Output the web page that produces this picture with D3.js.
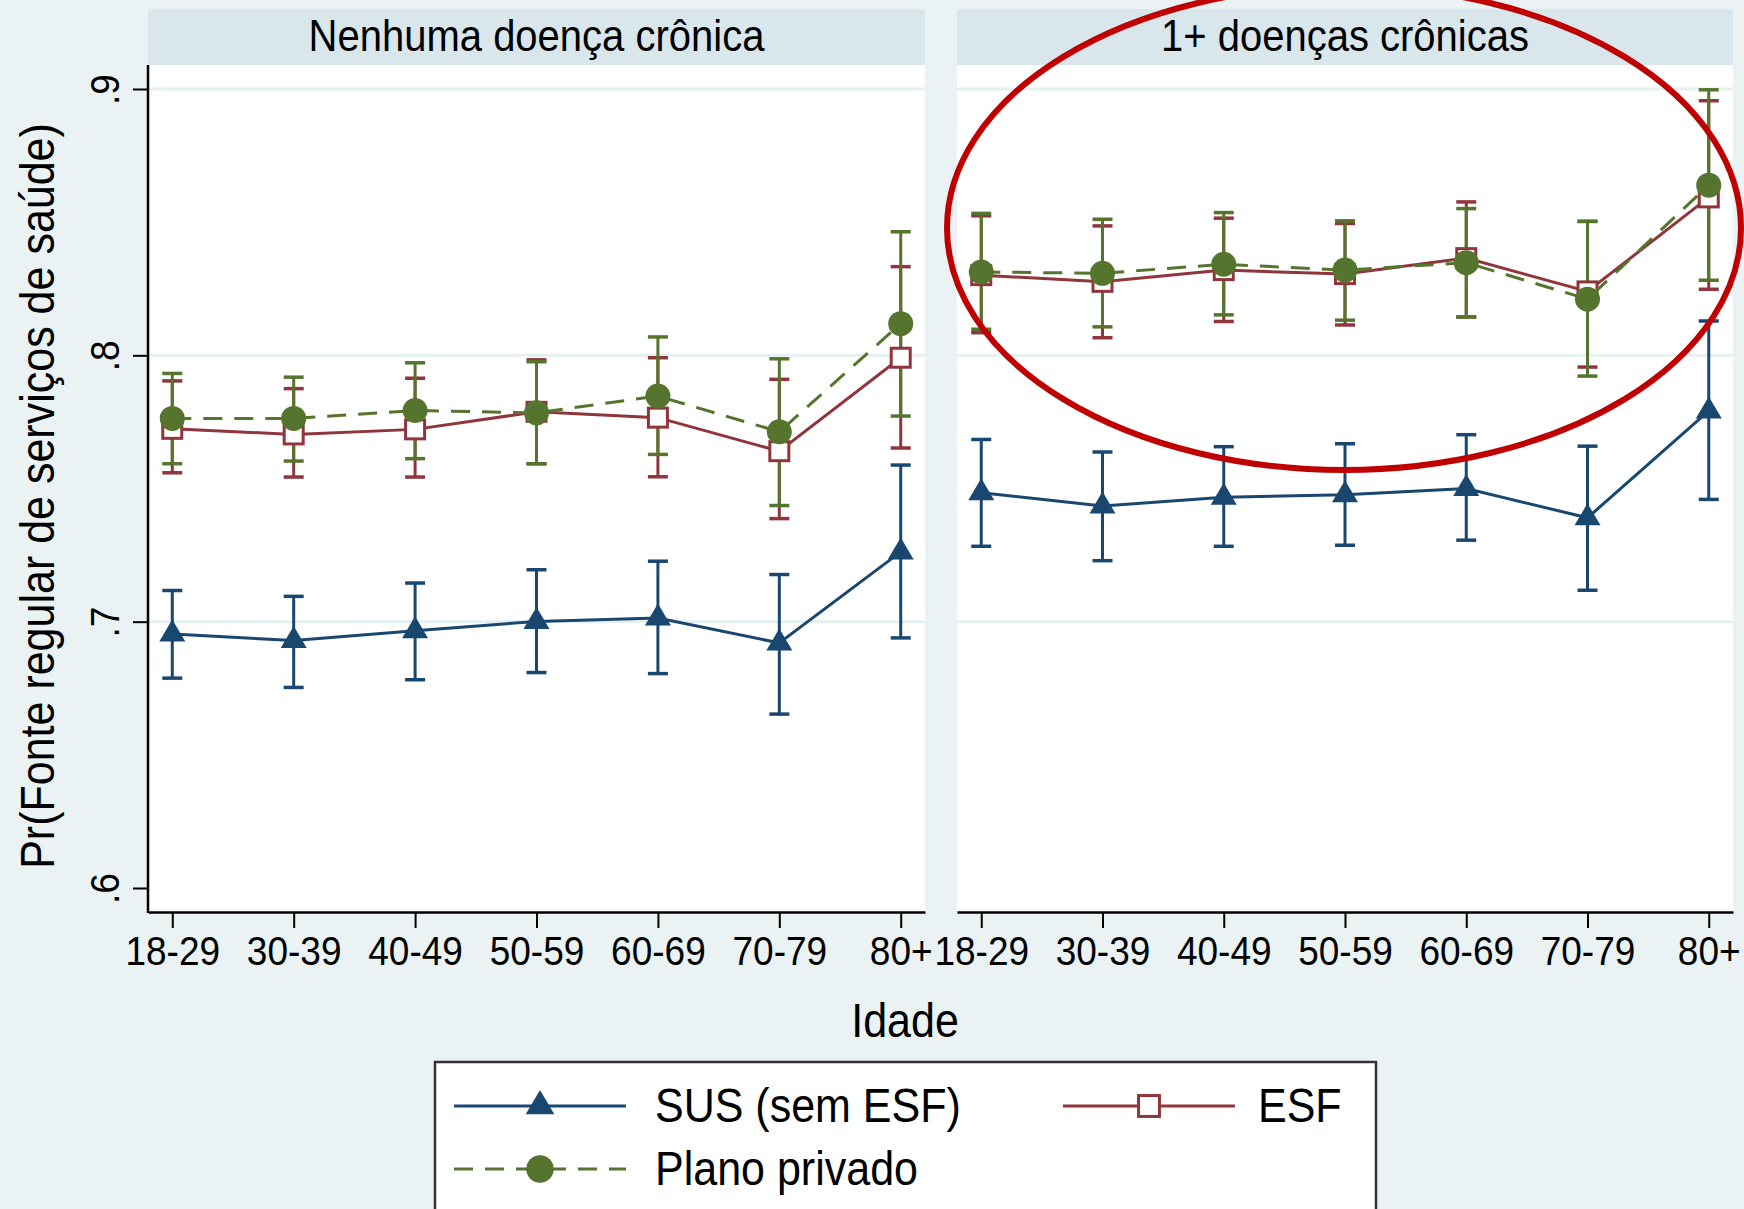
<!DOCTYPE html>
<meta charset="utf-8">
<head>
    <script src="https://d3js.org/d3.v7.min.js"></script>
    <style>
        body { margin: 0; background: #eaf2f3; }
        text { font-family: "Liberation Sans", Arial, Helvetica, sans-serif; fill: #000; }
    </style>
</head>
<body>
<div id="chart"></div>
</body>
<script>

    // categories and labels
    var ages = ["18-29", "30-39", "40-49", "50-59", "60-69", "70-79", "80+"];
    var panelTitles = ["Nenhuma doença crônica", "1+ doenças crônicas"];
    var seriesNames = ["SUS (sem ESF)", "ESF", "Plano privado"];
    var yTicks = [0.6, 0.7, 0.8, 0.9];

    // panel 1: no chronic disease
    var susNone = [0.6954, 0.6929, 0.6966, 0.7001, 0.7014, 0.6920, 0.7262];
    var susNoneLo = [0.6788, 0.6753, 0.6782, 0.6809, 0.6805, 0.6653, 0.6939];
    var susNoneHi = [0.7117, 0.7095, 0.7145, 0.7195, 0.7227, 0.7177, 0.7588];
    var esfNone = [0.7724, 0.7703, 0.7722, 0.7788, 0.7766, 0.7640, 0.7991];
    var esfNoneLo = [0.7559, 0.7543, 0.7543, 0.7593, 0.7544, 0.7387, 0.7652];
    var esfNoneHi = [0.7904, 0.7875, 0.7914, 0.7983, 0.7991, 0.7910, 0.8333];
    var privNone = [0.7763, 0.7763, 0.7793, 0.7784, 0.7847, 0.7713, 0.8119];
    var privNoneLo = [0.7593, 0.7603, 0.7612, 0.7593, 0.7628, 0.7436, 0.7772];
    var privNoneHi = [0.7932, 0.7918, 0.7972, 0.7976, 0.8069, 0.7987, 0.8464];

    // panel 2: 1+ chronic diseases
    var susChr = [0.7484, 0.7434, 0.7467, 0.7477, 0.7500, 0.7390, 0.7791];
    var susChrLo = [0.7283, 0.7229, 0.7283, 0.7287, 0.7306, 0.7118, 0.7459];
    var susChrHi = [0.7684, 0.7637, 0.7657, 0.7668, 0.7702, 0.7659, 0.8129];
    var esfChr = [0.8301, 0.8276, 0.8320, 0.8305, 0.8365, 0.8240, 0.8593];
    var esfChrLo = [0.8085, 0.8066, 0.8127, 0.8114, 0.8144, 0.7956, 0.8248];
    var esfChrHi = [0.8524, 0.8486, 0.8515, 0.8495, 0.8576, 0.8503, 0.8956];
    var privChr = [0.8313, 0.8308, 0.8342, 0.8320, 0.8348, 0.8211, 0.8639];
    var privChrLo = [0.8098, 0.8107, 0.8152, 0.8132, 0.8144, 0.7922, 0.8282];
    var privChrHi = [0.8533, 0.8511, 0.8536, 0.8505, 0.8551, 0.8503, 0.8997];

    var W = 1744, H = 1209;
    var panelX = [[148, 925], [957, 1733]];
    var bandTop = 9, plotTop = 65, plotBottom = 912;

    var series = [
        {color: "#1a476f", marker: "triangle", dash: null,
            vals: [susNone, susChr], lo: [susNoneLo, susChrLo], hi: [susNoneHi, susChrHi]},
        {color: "#90353b", marker: "square", dash: null,
            vals: [esfNone, esfChr], lo: [esfNoneLo, esfChrLo], hi: [esfNoneHi, esfChrHi]},
        {color: "#55752f", marker: "circle", dash: "19,12",
            vals: [privNone, privChr], lo: [privNoneLo, privChrLo], hi: [privNoneHi, privChrHi]}
    ];

    var svg = d3.select("#chart").append("svg")
        .attr("width", W).attr("height", H);

    svg.append("rect").attr("width", W).attr("height", H).attr("fill", "#eaf2f3");

    var y = d3.scaleLinear().domain([0.6, 0.9]).range([888, 89]);

    // Stata's Helvetica looks taller and narrower: grow the font, keep the width
    function condense(sel, k) {
        sel.each(function () {
            var t = d3.select(this);
            var w = this.getComputedTextLength();
            var fs = parseFloat(t.style("font-size"));
            t.style("font-size", (fs * k) + "px")
                .attr("textLength", w)
                .attr("lengthAdjust", "spacingAndGlyphs");
        });
    }

    function drawMarker(g, type, color, cx, cy, k) {
        k = k || 1;
        if (type === "triangle") {
            g.append("path")
                .attr("d", "M0," + (-14.5 * k) + "L" + (13 * k) + "," + (7.5 * k) + "L" + (-13 * k) + "," + (7.5 * k) + "Z")
                .attr("transform", "translate(" + cx + "," + cy + ")")
                .attr("fill", color);
        } else if (type === "square") {
            var s = 9.5 * k;
            g.append("rect")
                .attr("x", cx - s).attr("y", cy - s)
                .attr("width", 2 * s).attr("height", 2 * s)
                .attr("fill", "#fff").attr("stroke", color).attr("stroke-width", 3);
        } else {
            g.append("circle").attr("cx", cx).attr("cy", cy).attr("r", 12.5 * k)
                .attr("fill", color);
        }
    }

    panelX.forEach(function (px, p) {
        var g = svg.append("g");
        var x = d3.scalePoint().domain(ages).range(px).padding(0.2);

        // title band and plot region
        g.append("rect").attr("x", px[0]).attr("y", bandTop)
            .attr("width", px[1] - px[0]).attr("height", plotTop - bandTop)
            .attr("fill", "#d9e6eb");
        g.append("rect").attr("x", px[0]).attr("y", plotTop)
            .attr("width", px[1] - px[0]).attr("height", plotBottom - plotTop)
            .attr("fill", "#fff");
        g.append("text")
            .attr("class", "lbl")
            .attr("x", (px[0] + px[1]) / 2).attr("y", 51)
            .attr("text-anchor", "middle")
            .style("font-size", "40px")
            .text(panelTitles[p]);

        // gridlines
        g.selectAll(".grid").data(yTicks.filter(function (d) { return d > 0.65; }))
            .enter().append("line")
            .attr("x1", px[0]).attr("x2", px[1])
            .attr("y1", function (d) { return y(d); })
            .attr("y2", function (d) { return y(d); })
            .attr("stroke", "#e6eff1").attr("stroke-width", 3);

        // x axis
        var xa = g.append("g")
            .attr("transform", "translate(0," + plotBottom + ")")
            .call(d3.axisBottom(x).tickSize(16).tickSizeOuter(0).tickPadding(8));
        xa.select(".domain").attr("stroke", "#000").attr("stroke-width", 2.5);
        xa.selectAll(".tick line").attr("stroke", "#000").attr("stroke-width", 2);
        xa.selectAll(".tick text").attr("class", "lbl").style("font-size", "37px").attr("fill", "#000");

        // y axis only on the first panel
        if (p === 0) {
            var ya = g.append("g")
                .attr("transform", "translate(" + px[0] + ",0)")
                .call(d3.axisLeft(y).tickValues(yTicks).tickSize(15)
                    .tickFormat(function (d) { return d3.format(".1f")(d).replace(/^0/, ""); }));
            ya.select(".domain").remove();
            ya.selectAll(".tick line").attr("stroke", "#000").attr("stroke-width", 2);
            ya.selectAll(".tick text")
                .attr("class", "lbl")
                .attr("x", null).attr("dy", null)
                .attr("text-anchor", "middle")
                .attr("transform", "translate(-29,0) rotate(-90)")
                .style("font-size", "37px").attr("fill", "#000");
            g.append("line")
                .attr("x1", px[0]).attr("x2", px[0])
                .attr("y1", plotTop).attr("y2", plotBottom + 1)
                .attr("stroke", "#000").attr("stroke-width", 2.5);
        }

        // confidence intervals
        series.forEach(function (s) {
            ages.forEach(function (a, i) {
                var cx = x(a), y0 = y(s.lo[p][i]), y1 = y(s.hi[p][i]);
                g.append("line").attr("x1", cx).attr("x2", cx).attr("y1", y0).attr("y2", y1)
                    .attr("stroke", s.color).attr("stroke-width", 3);
                [y0, y1].forEach(function (yy) {
                    g.append("line").attr("x1", cx - 10).attr("x2", cx + 10)
                        .attr("y1", yy).attr("y2", yy)
                        .attr("stroke", s.color).attr("stroke-width", 3.5);
                });
            });
        });

        // connected lines and markers
        series.forEach(function (s) {
            var line = d3.line()
                .x(function (d, i) { return x(ages[i]); })
                .y(function (d) { return y(d); });
            g.append("path").datum(s.vals[p])
                .attr("d", line)
                .attr("fill", "none")
                .attr("stroke", s.color).attr("stroke-width", 3)
                .attr("stroke-dasharray", s.dash);
            s.vals[p].forEach(function (v, i) {
                drawMarker(g, s.marker, s.color, x(ages[i]), y(v));
            });
        });
    });

    // axis titles
    svg.append("text")
        .attr("class", "lbl")
        .attr("transform", "translate(54," + 496 + ") rotate(-90)")
        .attr("text-anchor", "middle")
        .style("font-size", "43px")
        .text("Pr(Fonte regular de serviços de saúde)");
    svg.append("text")
        .attr("class", "lbl")
        .attr("x", 905).attr("y", 1037)
        .attr("text-anchor", "middle")
        .style("font-size", "43px")
        .text("Idade");

    // legend
    var leg = svg.append("g");
    leg.append("rect")
        .attr("x", 435).attr("y", 1062)
        .attr("width", 941).attr("height", 170)
        .attr("fill", "#fff").attr("stroke", "#333").attr("stroke-width", 2.5);

    var legItems = [
        {s: 0, x0: 454, x1: 626, row: 1106, tx: 655},
        {s: 1, x0: 1063, x1: 1235, row: 1106, tx: 1258},
        {s: 2, x0: 454, x1: 626, row: 1169, tx: 655}
    ];
    legItems.forEach(function (it) {
        var s = series[it.s];
        leg.append("line")
            .attr("x1", it.x0).attr("x2", it.x1)
            .attr("y1", it.row).attr("y2", it.row)
            .attr("stroke", s.color).attr("stroke-width", 3)
            .attr("stroke-dasharray", s.dash);
        drawMarker(leg, s.marker, s.color, (it.x0 + it.x1) / 2, it.row, 1.1);
        leg.append("text")
            .attr("class", "lbl")
            .attr("x", it.tx).attr("y", it.row + 16)
            .style("font-size", "43px")
            .text(seriesNames[it.s]);
    });

    svg.selectAll("text.lbl").call(condense, 1.1);

    // highlight ellipse
    svg.append("ellipse")
        .attr("cx", 1344).attr("cy", 228)
        .attr("rx", 397).attr("ry", 242)
        .attr("fill", "none")
        .attr("stroke", "#c00000").attr("stroke-width", 6);

</script>
</html>
